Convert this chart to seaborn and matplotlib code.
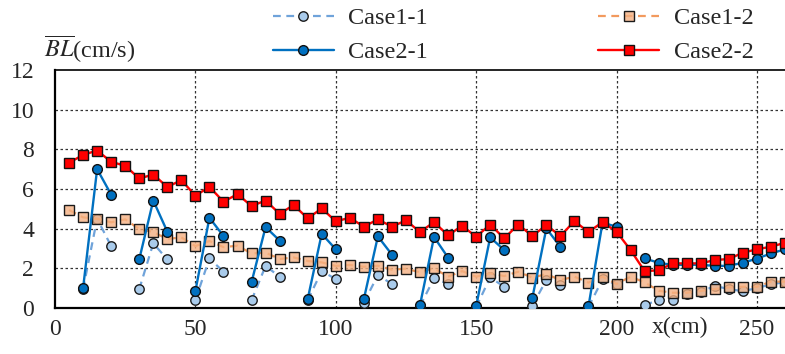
import numpy as np
import pandas as pd
import matplotlib
matplotlib.use("Agg")
import matplotlib.pyplot as plt
import seaborn as sns
from matplotlib.lines import Line2D

nan = np.nan

x_cm = [5, 10, 15, 20, 25, 30, 35, 40, 45, 50, 55, 60, 65, 70, 75, 80, 85, 90, 95, 100,
        105, 110, 115, 120, 125, 130, 135, 140, 145, 150, 155, 160, 165, 170, 175, 180,
        185, 190, 195, 200, 205, 210, 215, 220, 225, 230, 235, 240, 245, 250, 255, 260]

case1_1 = [nan, 0.95, 4.50, 3.12, nan, 0.95, 3.26, 2.45, nan, 0.40, 2.50, 1.83, nan,
           0.39, 2.12, 1.58, nan, 0.40, 1.86, 1.46, nan, 0.27, 1.66, 1.21, nan, 0.10,
           1.49, 1.21, nan, 0.05, 1.54, 1.07, nan, 0.12, 1.41, 1.16, nan, 0.05, 1.44,
           1.20, nan, 0.15, 0.40, 0.42, 0.70, 0.80, 1.12, 0.95, 0.85, 1.00, 1.20, 1.30]

case1_2 = [4.94, 4.57, 4.50, 4.32, 4.47, 3.98, 3.83, 3.48, 3.56,
           3.12, 3.38, 3.07, 3.14, 2.75, 2.79, 2.47, 2.55, 2.37,
           2.30, 2.12, 2.17, 2.08, 2.13, 1.93, 1.98, 1.80, 2.00,
           1.58, 1.86, 1.58, 1.75, 1.61, 1.83, 1.53, 1.71, 1.41,
           1.58, 1.28, 1.58, 1.21, 1.58, 1.29, 0.87, 0.77, 0.77,
           0.86, 0.96, 1.04, 1.07, 1.07, 1.33, 1.33]

case2_1 = [nan, 1.00, 7.00, 5.72, nan, 2.45, 5.42, 3.85, nan, 0.85, 4.55, 3.63, nan,
           1.30, 4.08, 3.40, nan, 0.45, 3.74, 2.96, nan, 0.45, 3.61, 2.69, nan, 0.15,
           3.58, 2.54, nan, 0.10, 3.56, 2.92, nan, 0.50, 4.01, 3.09, nan, 0.08, 4.30,
           4.10, nan, 2.50, 2.28, 2.17, 2.18, 2.18, 2.12, 2.13, 2.28, 2.49, 2.75, 2.96]

case2_2 = [7.32, 7.72, 7.94, 7.37, 7.17, 6.53, 6.73, 6.10, 6.45,
           5.66, 6.11, 5.36, 5.74, 5.14, 5.42, 4.75, 5.19, 4.52,
           5.02, 4.37, 4.55, 4.10, 4.47, 4.10, 4.42, 3.83, 4.33,
           3.66, 4.15, 3.59, 4.21, 3.51, 4.21, 3.63, 4.18, 3.63,
           4.38, 3.83, 4.33, 3.85, 2.92, 1.86, 1.90, 2.25, 2.25,
           2.25, 2.42, 2.47, 2.79, 2.96, 3.09, 3.29]

series_names = ["Case1-1", "Case1-2", "Case2-1", "Case2-2"]
y_ticks = [0, 2, 4, 6, 8, 10, 12]
x_ticks = [0, 50, 100, 150, 200, 250]


def to_segments(vals):
    rows = []
    seg = 0
    gap = True
    for xi, v in zip(x_cm, vals):
        if np.isnan(v):
            gap = True
            continue
        if gap:
            seg += 1
            gap = False
        rows.append((xi, v, seg))
    return pd.DataFrame(rows, columns=["x", "y", "seg"])


sns.set_style("white")
plt.rcParams["font.family"] = ["Liberation Serif", "DejaVu Serif"]
plt.rcParams["mathtext.fontset"] = "stix"

fig = plt.figure(figsize=(7.85, 3.54), dpi=100)
ax = fig.add_axes([55 / 785, 1 - 308 / 354, 1 - 55 / 785, (308 - 70) / 354])

styles = {
    "Case1-1": dict(color="#6FA3DA", linestyle=(0, (3.5, 2.5)), linewidth=1.6, marker="o",
                    markersize=6.8, markerfacecolor="#A9CBEB", markeredgecolor="#1a1a1a",
                    markeredgewidth=1.0, zorder=3),
    "Case1-2": dict(color="#F29A5E", linestyle=(0, (3.5, 2.5)), linewidth=1.6, marker="s",
                    markersize=6.8, markerfacecolor=(0.957, 0.694, 0.514, 0.8),
                    markeredgecolor="#1a1a1a", markeredgewidth=1.0, zorder=4),
    "Case2-1": dict(color="#0070C0", linestyle="-", linewidth=1.7, marker="o",
                    markersize=7.0, markerfacecolor="#0070C0", markeredgecolor="#111111",
                    markeredgewidth=1.0, zorder=5),
    "Case2-2": dict(color="#FF0000", linestyle="-", linewidth=1.7, marker="s",
                    markersize=7.0, markerfacecolor="#FF0000", markeredgecolor="#111111",
                    markeredgewidth=1.0, zorder=6),
}

data = {"Case1-1": case1_1, "Case1-2": case1_2, "Case2-1": case2_1, "Case2-2": case2_2}

for name in series_names:
    df = to_segments(data[name])
    sns.lineplot(data=df, x="x", y="y", units="seg", estimator=None, sort=False,
                 ax=ax, legend=False, **styles[name])

ax.set_xlim(0, 260)
ax.set_ylim(0, 12)
ax.set_xticks(x_ticks)
ax.set_yticks(y_ticks)
ax.set_xlabel("")
ax.set_ylabel("")
ax.tick_params(axis="both", length=0, labelsize=17)
ax.tick_params(axis="y", pad=15)
ax.tick_params(axis="x", pad=8)

for v in [2, 4, 6, 8, 10]:
    ax.axhline(v, color="#333333", linestyle=(0, (2, 2)), linewidth=0.9, zorder=1)
for v in [50, 100, 150, 200, 250]:
    ax.axvline(v, color="#333333", linestyle=(0, (2, 2)), linewidth=0.9, zorder=1)

for s in ["left", "bottom", "top"]:
    ax.spines[s].set_visible(True)
    ax.spines[s].set_color("black")
ax.spines["left"].set_linewidth(1.6)
ax.spines["bottom"].set_linewidth(1.6)
ax.spines["top"].set_linewidth(1.2)
ax.spines["right"].set_visible(False)

handles = []
order = ["Case1-1", "Case2-1", "Case1-2", "Case2-2"]
for name in order:
    st = dict(styles[name])
    st.pop("zorder")
    handles.append(Line2D([], [], **st))
fig.legend(handles, order, ncol=2, frameon=False, fontsize=17.5,
           loc="upper left", bbox_to_anchor=(273 / 785, 1 - 7 / 354),
           borderpad=0, borderaxespad=0, handlelength=2.5, handletextpad=0.6,
           columnspacing=7.0, labelspacing=0.5)

fig.text(44 / 785, 1 - 57 / 354, r"$\overline{BL}$(cm/s)", fontsize=17.5,
         ha="left", va="baseline")
fig.text(680 / 785, 1 - 327 / 354, "x(cm)", fontsize=17, ha="center", va="center")

fig.savefig("out.png", dpi=100)
